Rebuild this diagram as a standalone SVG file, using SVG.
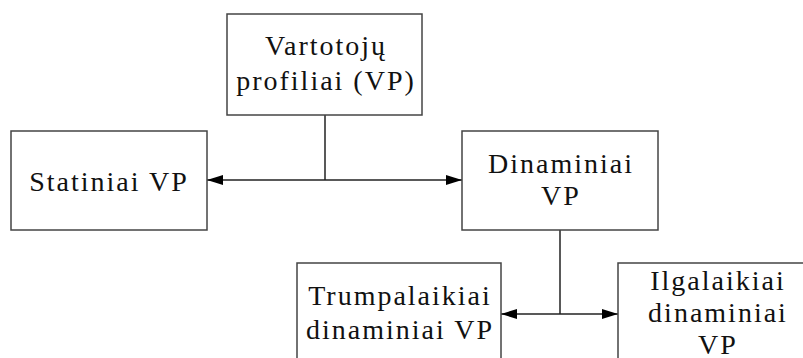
<svg xmlns="http://www.w3.org/2000/svg" width="803" height="358" viewBox="0 0 803 358">
<style>
.box{fill:#fff;stroke:#444;stroke-width:1.5}
.lbl{font-family:"Liberation Serif","Times New Roman",serif;font-size:28px;fill:#111;text-anchor:middle;letter-spacing:2px}
.ln{stroke:#222;stroke-width:1.5;fill:none}
</style>
<defs>
<marker id="ah" viewBox="0 0 16 10" refX="16" refY="5" markerWidth="16" markerHeight="10" markerUnits="userSpaceOnUse" orient="auto-start-reverse">
<path d="M0,0 L16,5 L0,10 Z" fill="#000"/>
</marker>
</defs>
<rect width="803" height="358" fill="#fff"/>
<g id="connectors">
<line class="ln" x1="325" y1="115" x2="325" y2="180"/>
<line class="ln" x1="207" y1="180" x2="462" y2="180" marker-start="url(#ah)" marker-end="url(#ah)"/>
<line class="ln" x1="560" y1="230" x2="560" y2="314"/>
<line class="ln" x1="501" y1="314" x2="618" y2="314" marker-start="url(#ah)" marker-end="url(#ah)"/>
</g>
<g id="vartotoju">
<rect class="box" x="227" y="14" width="195" height="101"/>
<text class="lbl" x="326" y="55">Vartotojų</text>
<text class="lbl" x="326" y="90">profiliai (VP)</text>
</g>
<g id="statiniai">
<rect class="box" x="11" y="131" width="196" height="99"/>
<text class="lbl" x="109" y="191">Statiniai VP</text>
</g>
<g id="dinaminiai">
<rect class="box" x="462" y="131" width="196" height="99"/>
<text class="lbl" x="561" y="173">Dinaminiai</text>
<text class="lbl" x="561" y="205">VP</text>
</g>
<g id="trumpalaikiai">
<rect class="box" x="297" y="263" width="204" height="110"/>
<text class="lbl" x="400" y="305">Trumpalaikiai</text>
<text class="lbl" x="400" y="339">dinaminiai VP</text>
</g>
<g id="ilgalaikiai">
<rect class="box" x="618" y="263" width="200" height="110"/>
<text class="lbl" x="718" y="290">Ilgalaikiai</text>
<text class="lbl" x="718" y="322">dinaminiai</text>
<text class="lbl" x="718" y="354">VP</text>
</g>
</svg>
